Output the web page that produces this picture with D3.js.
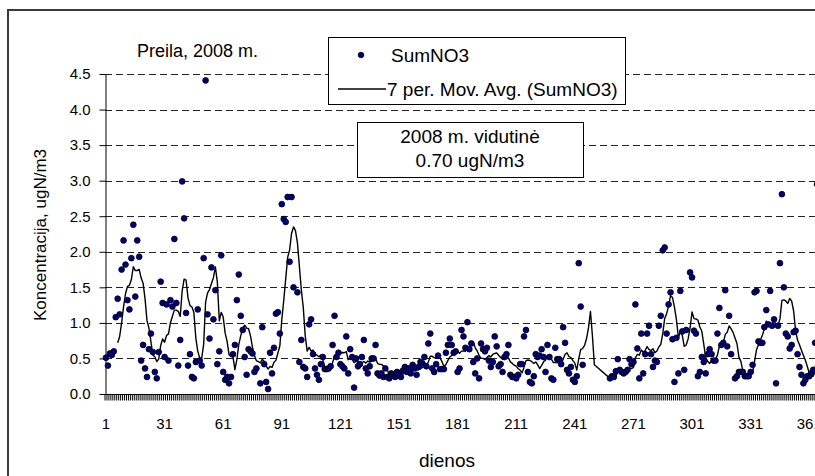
<!DOCTYPE html>
<html>
<head>
<meta charset="utf-8">
<script src="https://cdn.jsdelivr.net/npm/d3@7"></script>
<style>
  body { margin: 0; background: #fff; }
  svg { display: block; }
  text { font-family: Arial, "Liberation Sans", sans-serif; fill: #000; }
</style>
</head>
<body>
<svg id="chart" width="815" height="476"></svg>
<script>
// Daily SumNO3 concentration at Preila, 2008 (ugN/m3); null = no sample that day
const sumNO3 = [
  0.51, 0.40, 0.57, 0.55, 0.60, 1.08, 1.34, 1.12, 1.75, 2.16,   // 1-10
  1.82, 1.32, 1.19, 1.91, 2.38, 1.37, 2.16, 1.93, 0.47, 0.69,   // 11-20
  0.36, 0.24, 0.63, 0.85, 0.59, 0.31, 0.22, 0.59, 1.58, 1.28,   // 21-30
  0.52, 1.26, 0.47, 1.32, 1.23, 2.18, 1.28, 0.40, 0.76, 2.99,   // 31-40
  2.47, 1.14, 0.40, 0.56, 0.24, 0.22, 0.45, 1.19, 0.47, 0.40,   // 41-50
  1.91, 4.41, 1.12, 0.78, 1.78, 1.05, 1.46, 0.42, 0.60, 1.95,   // 51-60
  0.31, 0.20, 0.24, 0.15, 0.24, 0.56, 0.69, 1.32, 1.68, 1.10,   // 61-70
  0.90, 0.52, 0.27, 0.63, 0.60, 0.57, 0.31, 0.36, null, 0.15,   // 71-80
  0.94, 0.42, 0.17, 0.07, 0.58, 0.29, 0.65, 1.13, 1.15, 0.85,   // 81-90
  2.67, 2.46, 2.42, 2.77, 1.86, 2.77, 1.50, null, 1.43, 0.45,   // 91-100
  0.76, 0.38, 0.36, 0.24, 0.98, 1.05, 0.56, 0.36, 0.27, 0.20,   // 101-110
  0.42, 0.52, 0.35, 0.35, 0.36, 0.39, 0.69, 1.10, 0.52, 0.58,   // 111-120
  0.42, 0.39, 0.36, 0.81, 0.29, 0.63, 0.52, 0.09, 0.50, 0.39,   // 121-130
  0.42, 0.52, 0.76, 0.36, 0.29, 0.39, 0.50, 0.50, 0.69, 0.29,   // 131-140
  0.26, 0.29, 0.24, 0.36, 0.24, 0.22, 0.29, 0.27, 0.24, 0.31,   // 141-150
  0.29, 0.24, 0.33, 0.38, 0.31, 0.36, 0.29, 0.41, 0.36, 0.27,   // 151-160
  0.38, 0.45, 0.43, 0.52, 0.39, 0.71, 0.85, 0.36, 0.31, 0.42,   // 161-170
  0.54, 0.35, 0.35, 0.35, 0.58, 0.69, 0.78, 0.69, 0.58, 0.60,   // 171-180
  0.31, 0.36, 0.90, 0.81, 0.65, 1.01, 0.63, 0.71, 0.45, 0.29,   // 181-190
  0.50, 0.22, 0.71, 0.63, 0.60, 0.65, 0.47, 0.38, 0.45, 0.81,   // 191-200
  0.67, 0.39, 0.42, 0.31, 0.52, 0.56, 0.69, 0.27, 0.24, 0.24,   // 201-210
  0.22, 0.27, 0.42, 0.42, 0.81, 0.90, 0.31, 0.17, 0.15, 0.25,   // 211-220
  0.56, 0.52, 0.54, 0.63, 0.52, 0.31, 0.69, 0.52, 0.22, 0.20,   // 221-230
  0.65, 0.49, 0.49, 0.42, 0.94, 0.72, 0.34, 0.29, 0.38, 0.20,   // 231-240
  0.17, 0.25, 1.84, 1.23, 0.41, null, null, null, null, null,   // 241-250
  null, null, null, null, null, null, null, null, 0.22, 0.25,   // 251-260
  0.24, 0.32, 0.49, 0.34, 0.31, 0.29, 0.31, 0.34, 0.49, 0.42,   // 261-270
  0.45, 1.26, 0.64, 0.22, 0.85, 0.29, 0.56, 0.85, 0.96, 0.56,   // 271-280
  0.38, 0.47, 0.45, 0.96, 1.10, 2.02, 2.06, 0.85, 1.26, 1.43,   // 281-290
  0.77, 0.17, 0.79, 0.29, 1.45, 0.88, 0.34, 0.90, null, 1.71,   // 291-300
  1.64, 0.89, 0.85, 0.25, 0.31, 0.52, 0.45, 0.29, 0.56, 0.63,   // 301-310
  0.56, 0.47, 0.47, 0.85, 1.21, 0.69, 0.72, 1.46, 0.67, 1.10,   // 311-320
  0.56, null, 0.22, 0.25, 0.31, 0.31, 0.31, 0.25, 0.25, 0.25,   // 321-330
  0.31, 0.41, 1.43, 1.45, 0.74, 0.72, 0.72, 0.94, 1.18, 0.98,   // 331-340
  1.45, 0.96, 1.05, 0.15, 0.96, 1.84, 2.81, 1.50, 0.85, 0.81,   // 341-350
  0.64, 0.69, 0.87, 0.89, 0.56, 0.38, 0.27, 0.15, 0.20, 0.25,   // 351-360
  0.25, 0.29, 0.34, 0.72, 2.95, 1.12                            // 361-366
];
const days = d3.range(1, sumNO3.length + 1);          // day-of-year categories
const xTickDays = [1, 31, 61, 91, 121, 151, 181, 211, 241, 271, 301, 331, 361];
const yTicks = [0, 0.5, 1.0, 1.5, 2.0, 2.5, 3.0, 3.5, 4.0, 4.5];
const maPeriod = 7;

const title = "Preila, 2008 m.";
const seriesName = "SumNO3";
const trendName = "7 per. Mov. Avg. (SumNO3)";
const noteLines = ["2008 m. vidutinė", "0.70 ugN/m3"];
const yTitle = "Koncentracija, ugN/m3";
const xTitle = "dienos";

const svg = d3.select("#chart");
// the plot area runs slightly past the right edge of the frame
const plot = { left: 105, right: 820, top: 74, bottom: 394 };

const x = d3.scaleBand().domain(days).range([plot.left, plot.right]).padding(0);
const bw = x.bandwidth();
const cx = d => x(d) + bw / 2;
const y = d3.scaleLinear().domain([0, 4.5]).range([plot.bottom, plot.top]);

// outer chart frame
svg.append("rect")
  .attr("x", 8).attr("y", 10).attr("width", 900).attr("height", 600)
  .attr("fill", "none").attr("stroke", "#3a3a3a").attr("stroke-width", 2);

// dashed horizontal gridlines
svg.append("g").selectAll("line")
  .data(yTicks.filter(v => v > 0))
  .join("line")
  .attr("x1", plot.left).attr("x2", plot.right)
  .attr("y1", d => Math.round(y(d)) + 0.5).attr("y2", d => Math.round(y(d)) + 0.5)
  .attr("stroke", "#222").attr("stroke-width", 1)
  .attr("stroke-dasharray", "7,4");

// y axis
const yAxis = svg.append("g")
  .attr("transform", `translate(${plot.left + 0.5},0)`)
  .call(d3.axisLeft(y).tickValues(yTicks).tickFormat(d3.format(".1f"))
    .tickSize(6).tickSizeOuter(0).tickPadding(9));
yAxis.select(".domain").attr("stroke", "#000");
yAxis.selectAll(".tick line").attr("stroke", "#000");
yAxis.selectAll(".tick text")
  .attr("font-size", 15).attr("font-family", "Arial, 'Liberation Sans', sans-serif").attr("fill", "#000");

// x axis: one tick mark per day, labels every 30 days
const xAxisG = svg.append("g").attr("transform", `translate(0,${plot.bottom + 0.5})`);
xAxisG.append("line")
  .attr("x1", plot.left).attr("x2", plot.right)
  .attr("stroke", "#000");
xAxisG.append("g").selectAll("line")
  .data(days)
  .join("line")
  .attr("x1", d => x(d)).attr("x2", d => x(d))
  .attr("y1", 0).attr("y2", 6)
  .attr("stroke", "#000").attr("stroke-width", 1);
const xLabels = xAxisG.append("g")
  .call(d3.axisBottom(x).tickValues(xTickDays).tickSize(0).tickPadding(0));
xLabels.select(".domain").remove();
xLabels.selectAll(".tick text")
  .attr("y", 34).attr("dy", 0)
  .attr("font-size", 15).attr("font-family", "Arial, 'Liberation Sans', sans-serif").attr("fill", "#000");

// 7-period moving average (mean of the samples present in each 7-day window)
const ma = [];
days.forEach((d, i) => {
  if (d < maPeriod) return;
  const win = sumNO3.slice(i - maPeriod + 1, i + 1).filter(v => v != null);
  if (win.length) ma.push({ day: d, value: d3.mean(win) });
});

svg.append("path")
  .datum(ma)
  .attr("fill", "none")
  .attr("stroke", "#000")
  .attr("stroke-width", 1.4)
  .attr("stroke-linejoin", "round")
  .attr("d", d3.line().x(d => cx(d.day)).y(d => y(d.value)));

// daily markers
const pts = days.map((d, i) => ({ day: d, value: sumNO3[i] })).filter(p => p.value != null);
svg.append("g").selectAll("circle")
  .data(pts)
  .join("circle")
  .attr("cx", d => cx(d.day))
  .attr("cy", d => y(d.value))
  .attr("r", 2.9)
  .attr("fill", "#000080")
  .attr("stroke", "#000")
  .attr("stroke-width", 0.8);

// chart title
svg.append("text")
  .attr("x", 137).attr("y", 56.5)
  .attr("font-size", 18)
  .text(title);

// legend
const lg = svg.append("g");
lg.append("rect")
  .attr("x", 328.5).attr("y", 37.5).attr("width", 297).attr("height", 67)
  .attr("fill", "#fff").attr("stroke", "#000");
lg.append("circle")
  .attr("cx", 361).attr("cy", 55).attr("r", 2.8)
  .attr("fill", "#000080").attr("stroke", "#000").attr("stroke-width", 0.8);
lg.append("text").attr("x", 391).attr("y", 61.5).attr("font-size", 19).text(seriesName);
lg.append("line")
  .attr("x1", 338).attr("x2", 386).attr("y1", 89).attr("y2", 89)
  .attr("stroke", "#000").attr("stroke-width", 1.4);
lg.append("text").attr("x", 387).attr("y", 95.5).attr("font-size", 19).text(trendName);

// annual mean note
const nb = svg.append("g");
nb.append("rect")
  .attr("x", 357.5).attr("y", 122.5).attr("width", 226).attr("height", 55)
  .attr("fill", "#fff").attr("stroke", "#000");
nb.selectAll("text")
  .data(noteLines)
  .join("text")
  .attr("x", 470).attr("y", (d, i) => 142.5 + i * 24)
  .attr("text-anchor", "middle").attr("font-size", 19)
  .text(d => d);

// axis titles
svg.append("text")
  .attr("transform", "translate(46,235) rotate(-90)")
  .attr("text-anchor", "middle").attr("font-size", 17)
  .text(yTitle);
svg.append("text")
  .attr("x", 447).attr("y", 467)
  .attr("text-anchor", "middle").attr("font-size", 19)
  .text(xTitle);
</script>
</body>
</html>
